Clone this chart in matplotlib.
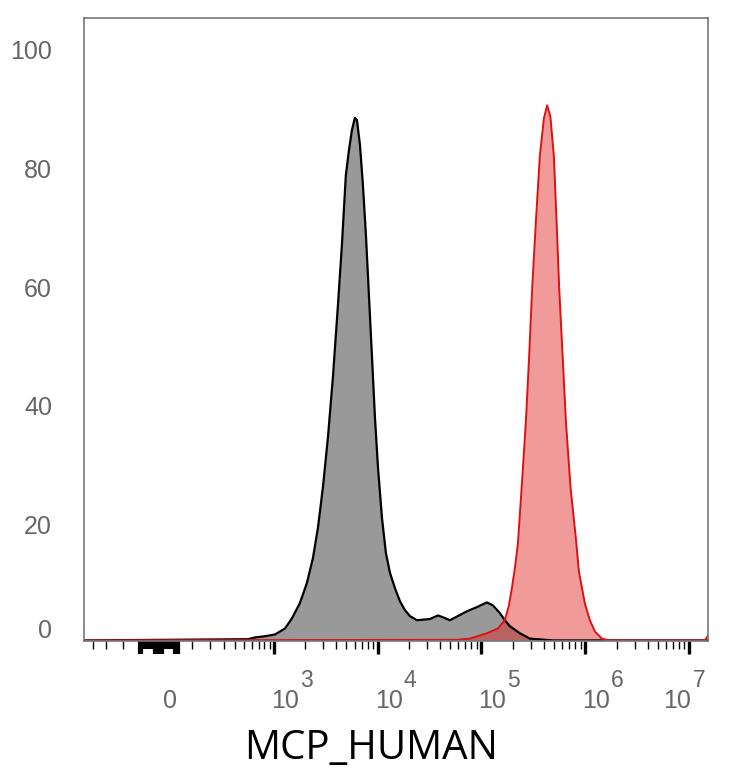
import matplotlib
matplotlib.use("Agg")
import matplotlib.pyplot as plt
import matplotlib.transforms as mtransforms

# histogram traces (intensity, % of max)
gray_x = [-658, 546, 644, 810, 1016, 1274, 1488, 1780, 2082, 2380, 2660,
          2970, 3320, 3710, 4140, 4520, 4940, 5290, 5650, 6040, 6320, 6760,
          7220, 7720, 8250, 8820, 9420, 10070, 11000, 12020, 13140, 14680,
          16400, 18320, 20470, 23900, 31900, 38100, 42500, 49700, 59300,
          72400, 90300, 112800, 128800, 150400, 168000, 187600, 234400,
          292400, 487000, 1.52e7]
gray_y = [0, 0.2, 0.5, 0.7, 1.0, 2.0, 3.7, 6.3, 9.7, 13.9, 19.0,
          25.8, 34.2, 44.4, 56.3, 66.4, 78.3, 82.5, 85.9, 88.0, 87.6, 83.4,
          76.6, 68.1, 58.0, 47.8, 37.6, 29.2, 20.7, 14.7, 11.4, 8.8,
          6.6, 5.1, 4.1, 3.4, 3.6, 4.2, 3.9, 3.4, 4.1,
          4.9, 5.6, 6.4, 5.9, 4.6, 3.4, 2.4, 1.2,
          0.3, 0, 0]

red_x = [-658, 58000, 77400, 112800, 144000, 168000, 183900, 196400, 210000,
         224400, 243600, 268000, 288300, 308000, 334300, 365200, 399300,
         429500, 461100, 498000, 529000, 560500, 604400, 650300, 722000,
         811700, 867600, 991300, 1107000, 1237000, 1445000, 1725000,
         1.42e7, 1.52e7]
red_y = [0, 0.1, 0.3, 1.2, 2.0, 3.4, 5.9, 8.8, 12.2,
         16.3, 25.6, 36.9, 48.0, 59.3, 70.5, 81.6, 87.9,
         90.1, 88.2, 81.6, 70.5, 59.3, 48.0, 36.9, 25.6,
         17.2, 11.6, 6.2, 3.4, 1.5, 0.3, 0,
         0, 0.8]

y_ticks = [0, 20, 40, 60, 80, 100]
x_decades = [3, 4, 5, 6, 7]
neg_ticks = [-530, -390, -250]
# dense ticks around zero (reads as a solid block)
near_zero_long = [-150, -145, -140, -135, -130, -70, -65, -60, -55, -50,
                  -45, -40, -35, -30, 20, 25, 30, 35, 40]
near_zero_short = [-125, -120, -115, -110, -105, -100, -95, -90, -85, -80,
                   -75, -25, -20, -15, -10, -5, 0, 5, 10, 15]
x_label = "MCP_HUMAN"

fig = plt.figure(figsize=(7.34, 7.68), dpi=100)
ax = fig.add_axes([84 / 734, 127 / 768, 624 / 734, 623 / 768])
ax.set_xscale("asinh", linear_width=200)

ax.fill_between(gray_x, gray_y, 0, color="#999999", lw=0)
ax.plot(gray_x, gray_y, color="black", lw=1.6)
ax.fill_between(red_x, red_y, 0, color="#e02020", alpha=0.45, lw=0)
ax.plot(red_x, red_y, color="#dd1111", lw=1.4)

ax.set_xlim(-658, 1.52e7)
ax.set_ylim(-0.1, 104.8)

# x ticks
major = [10 ** d for d in x_decades]
minor = neg_ticks + [k * 100 for k in range(1, 10)]
for d in range(3, 7):
    minor += [k * 10 ** d for k in range(2, 10)]
ax.set_xticks(major)
ax.set_xticks(minor, minor=True)
ax.set_xticklabels([])
ax.tick_params(axis="x", which="major", length=9.5, width=2.4, color="black")
ax.tick_params(axis="x", which="minor", length=5.8, width=1.0, color="black")

# block of ticks near zero, drawn as extra tick lines
blend = mtransforms.blended_transform_factory(ax.transData, ax.transAxes)
for v in near_zero_long:
    ax.plot([v, v], [0, -13 / 623], transform=blend, color="black",
            lw=1.6, clip_on=False, solid_capstyle="butt")
for v in near_zero_short:
    ax.plot([v, v], [0, -8 / 623], transform=blend, color="black",
            lw=1.6, clip_on=False, solid_capstyle="butt")

# y labels only
ax.set_yticks(y_ticks)
ax.set_yticklabels([str(v) for v in y_ticks], fontsize=18, color="#666666",
                   family="Liberation Sans")
ax.tick_params(axis="y", length=0, pad=23)
shift = mtransforms.ScaledTranslation(0, -3 / 100, fig.dpi_scale_trans)
for lab in ax.get_yticklabels():
    lab.set_transform(lab.get_transform() + shift)
ax.get_yticklabels()[0].set_va("bottom")

for s in ax.spines.values():
    s.set_color("#777777")
    s.set_linewidth(1.2)

# x tick labels as 10 with raised exponent
lab_kw = dict(fontsize=18, color="#666666", family="Liberation Sans", va="baseline")
t0 = mtransforms.offset_copy(blend, fig=fig, x=0, y=-67, units="dots")
ax.text(0, 0, "0", transform=t0, ha="center", **lab_kw)
for d in x_decades:
    v = 10 ** d
    if d == x_decades[-1]:
        tb = mtransforms.offset_copy(blend, fig=fig, x=2, y=-67, units="dots")
        ax.text(v, 0, "10", transform=tb, ha="right", **lab_kw)
        te = mtransforms.offset_copy(blend, fig=fig, x=4, y=-46, units="dots")
    else:
        tb = mtransforms.offset_copy(blend, fig=fig, x=-3, y=-67, units="dots")
        ax.text(v, 0, "10", transform=tb, ha="left", **lab_kw)
        te = mtransforms.offset_copy(blend, fig=fig, x=26, y=-46, units="dots")
    ax.text(v, 0, str(d), transform=te, ha="left", fontsize=16.5,
            color="#666666", family="Liberation Sans", va="baseline")

fig.text(371.5 / 734, 9 / 768, x_label, ha="center", va="baseline",
         fontsize=29, family="Open Sans", color="black")

fig.savefig("out.png", dpi=100)
